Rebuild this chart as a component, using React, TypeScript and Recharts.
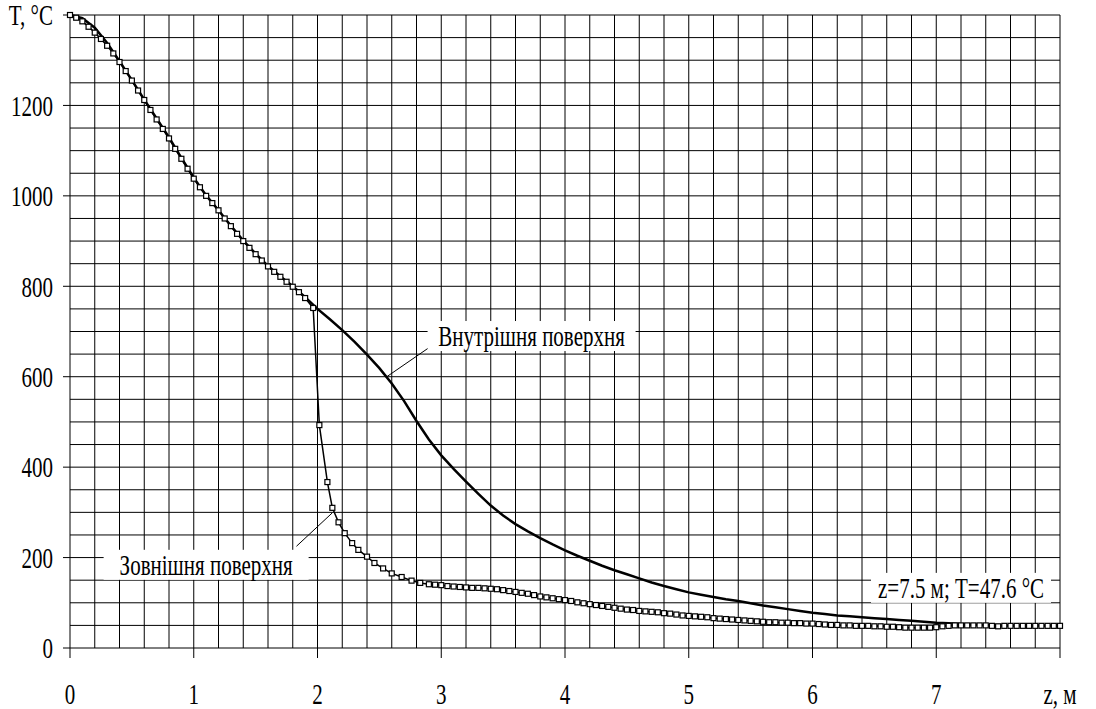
import React from 'react';
import {
    LineChart,
    Line,
    XAxis,
    YAxis,
    ReferenceLine,
    ReferenceDot,
} from 'recharts';

// temperature along z, inner surface [z (m), T (°C)]
const innerSurface: [number, number][] = [
    [0, 1400], [0.1, 1393], [0.2, 1372], [0.3, 1338], [0.4, 1298], [0.5, 1256],
    [0.6, 1213], [0.7, 1171], [0.8, 1129], [0.9, 1084], [1.0, 1040], [1.1, 1001],
    [1.2, 968], [1.3, 934], [1.4, 901], [1.5, 872], [1.6, 845], [1.7, 822],
    [1.8, 800], [1.9, 776], [2.0, 750], [2.1, 727], [2.2, 703], [2.3, 677],
    [2.4, 649], [2.5, 619], [2.6, 585], [2.7, 546], [2.8, 502], [2.9, 461],
    [3.0, 426], [3.1, 396], [3.2, 368], [3.3, 341], [3.4, 315], [3.5, 293],
    [3.6, 274], [3.7, 258], [3.8, 243], [3.9, 229], [4.0, 216], [4.1, 204],
    [4.2, 193], [4.3, 182], [4.4, 172], [4.5, 163], [4.6, 154], [4.7, 145],
    [4.8, 137], [4.9, 130], [5.0, 123], [5.1, 118], [5.2, 113], [5.3, 108],
    [5.4, 104], [5.5, 99], [5.6, 94], [5.7, 90], [5.8, 86], [5.9, 82],
    [6.0, 78], [6.1, 75], [6.2, 72], [6.3, 70], [6.4, 68], [6.5, 66],
    [6.6, 64], [6.7, 62], [6.8, 60], [6.9, 58], [7.0, 56], [7.1, 55],
    [7.2, 53], [7.3, 52], [7.4, 51], [7.5, 50], [7.6, 50], [7.7, 50],
    [7.8, 50], [7.9, 50], [8.0, 50],
];

// outer surface [z (m), T (°C)]
const outerSurface: [number, number][] = [
    [0, 1400], [0.05, 1394], [0.1, 1386], [0.15, 1374], [0.2, 1361], [0.25, 1347],
    [0.3, 1332], [0.35, 1315], [0.4, 1296], [0.45, 1276], [0.5, 1255], [0.55, 1233],
    [0.6, 1212], [0.65, 1190], [0.7, 1169], [0.75, 1148], [0.8, 1127], [0.85, 1104],
    [0.9, 1082], [0.95, 1060], [1.0, 1038], [1.05, 1019], [1.1, 1000], [1.15, 984],
    [1.2, 968], [1.25, 950], [1.3, 933], [1.35, 916], [1.4, 900], [1.45, 885],
    [1.5, 871], [1.55, 857], [1.6, 844], [1.65, 832], [1.7, 821], [1.75, 810],
    [1.8, 799], [1.85, 787], [1.9, 774], [1.965, 752], [2.015, 493], [2.08, 367],
    [2.12, 310], [2.17, 278], [2.22, 254], [2.28, 232], [2.33, 217], [2.4, 202],
    [2.46, 188], [2.53, 176], [2.6, 165], [2.68, 157], [2.76, 149], [2.83, 144],
    [2.9, 141], [2.95, 140], [3.0, 139], [3.05, 137], [3.1, 136], [3.15, 135],
    [3.2, 134], [3.25, 133], [3.3, 133], [3.35, 132], [3.4, 131], [3.45, 130],
    [3.5, 128], [3.55, 126], [3.6, 124], [3.65, 122], [3.7, 120], [3.75, 117],
    [3.8, 114], [3.85, 112], [3.9, 110], [3.95, 108], [4.0, 106], [4.05, 104],
    [4.1, 101], [4.15, 99], [4.2, 97], [4.25, 95], [4.3, 93], [4.35, 91],
    [4.4, 89], [4.45, 87], [4.5, 85], [4.55, 84], [4.6, 82], [4.65, 81],
    [4.7, 80], [4.75, 79], [4.8, 77], [4.85, 76], [4.9, 74], [4.95, 72],
    [5.0, 71], [5.05, 70], [5.1, 69], [5.15, 68], [5.2, 66], [5.25, 65],
    [5.3, 64], [5.35, 63], [5.4, 62], [5.45, 61], [5.5, 60], [5.55, 59],
    [5.6, 58], [5.65, 57], [5.7, 57], [5.75, 56], [5.8, 56], [5.85, 55],
    [5.9, 55], [5.95, 54], [6.0, 54], [6.05, 53], [6.1, 52], [6.15, 51],
    [6.2, 51], [6.25, 50], [6.3, 50], [6.35, 49], [6.4, 49], [6.45, 49],
    [6.5, 48], [6.55, 48], [6.6, 47], [6.65, 47], [6.7, 46], [6.75, 45],
    [6.8, 45], [6.85, 45], [6.9, 45], [6.95, 45], [7.0, 46], [7.05, 48],
    [7.1, 49], [7.15, 50], [7.2, 50], [7.25, 50], [7.3, 50], [7.35, 50],
    [7.4, 50], [7.45, 49], [7.5, 48], [7.55, 49], [7.6, 49], [7.65, 49],
    [7.7, 49], [7.75, 49], [7.8, 49], [7.85, 49], [7.9, 49], [7.95, 49],
    [8.0, 49],
];

const xTicks = [0, 1, 2, 3, 4, 5, 6, 7, 8];
const yTicks = [0, 200, 400, 600, 800, 1000, 1200, 1400];
const xGrid = [0.2, 0.4, 0.6, 0.8, 1, 1.2, 1.4, 1.6, 1.8, 2, 2.2, 2.4, 2.6, 2.8, 3, 3.2, 3.4, 3.6, 3.8,
    4, 4.2, 4.4, 4.6, 4.8, 5, 5.2, 5.4, 5.6, 5.8, 6, 6.2, 6.4, 6.6, 6.8, 7, 7.2, 7.4, 7.6, 7.8, 8];
const yGrid = [50, 100, 150, 200, 250, 300, 350, 400, 450, 500, 550, 600, 650, 700, 750, 800, 850,
    900, 950, 1000, 1050, 1100, 1150, 1200, 1250, 1300, 1350, 1400];

const innerData = innerSurface.map(([z, t]) => ({ z, t }));
const outerData = outerSurface.map(([z, t]) => ({ z, t }));

const FONT = "'Liberation Serif', 'DejaVu Serif', serif";
const FS = 21;
const STRETCH = 1.38;

// text drawn a bit taller than wide, like the original scan
const Tall = ({ x, y, anchor, children }: any) => (
    <text transform={`translate(${x},${y}) scale(1,${STRETCH})`} textAnchor={anchor}
        dominantBaseline="central" style={{ fontFamily: FONT, fontSize: FS }} fill="#000">
        {children}
    </text>
);

const XTick = (props: any) => {
    const { x, y, payload } = props;
    const v = payload.value;
    return <Tall x={x} y={y} anchor="middle">{v === 8 ? 'z, м' : String(v)}</Tall>;
};

const YTick = (props: any) => {
    const { x, y, payload } = props;
    const v = payload.value;
    return <Tall x={x} y={y} anchor="end">{v === 1400 ? 'T, °C' : String(v)}</Tall>;
};

const SquareDot = (props: any) => {
    const { cx, cy, index } = props;
    if (cx == null || cy == null) return <g key={`s${index}`} />;
    return (
        <rect key={`s${index}`} x={cx - 2.5} y={cy - 2.5} width={5} height={5}
            fill="#fff" stroke="#000" strokeWidth={1.2} />
    );
};

const boxLabel = (text: string, w: number) => (props: any) => {
    const { cx, cy } = props;
    return (
        <g>
            <rect x={cx - w / 2} y={cy - 15} width={w} height={30} fill="#fff" />
            <Tall x={cx} y={cy} anchor="middle">{text}</Tall>
        </g>
    );
};

export default function App() {
    return (
        <div style={{ position: 'absolute', left: 0, top: 0, width: 1096, height: 709, background: '#fff' }}>
            <LineChart width={1096} height={709} margin={{ top: 15, right: 36, left: 10, bottom: 11 }}>
                <XAxis type="number" dataKey="z" domain={[0, 8]} ticks={xTicks}
                    allowDuplicatedCategory={false} height={50}
                    tickSize={10} tickMargin={36}
                    axisLine={{ stroke: '#000' }} tickLine={{ stroke: '#000' }}
                    tick={<XTick />} />
                <YAxis type="number" domain={[0, 1400]} ticks={yTicks} width={60}
                    tickSize={7} tickMargin={10}
                    axisLine={{ stroke: '#000' }} tickLine={{ stroke: '#000' }}
                    tick={<YTick />} />

                {xGrid.map((v) => (
                    <ReferenceLine key={`gx${v}`} x={v} stroke="#000" strokeWidth={1} />
                ))}
                {yGrid.map((v) => (
                    <ReferenceLine key={`gy${v}`} y={v} stroke="#000" strokeWidth={1} />
                ))}

                <Line data={outerData} dataKey="t" type="linear" stroke="#000" strokeWidth={1.5}
                    dot={SquareDot} activeDot={false} isAnimationActive={false} />
                <Line data={innerData} dataKey="t" type="linear" stroke="#000" strokeWidth={2.5}
                    dot={false} activeDot={false} isAnimationActive={false} />

                <ReferenceLine segment={[{ x: 2.56, y: 600 }, { x: 2.91, y: 666 }]} stroke="#000" strokeWidth={1} />
                <ReferenceLine segment={[{ x: 1.83, y: 225 }, { x: 2.12, y: 299 }]} stroke="#000" strokeWidth={1} />

                <ReferenceDot x={3.73} y={690} r={0} shape={boxLabel('Внутрішня поверхня', 208)} />
                <ReferenceDot x={1.1} y={184} r={0} shape={boxLabel('Зовнішня поверхня', 205)} />
                <ReferenceDot x={7.2} y={133} r={0} shape={boxLabel('z=7.5 м; T=47.6 °C', 180)} />
            </LineChart>
        </div>
    );
}
